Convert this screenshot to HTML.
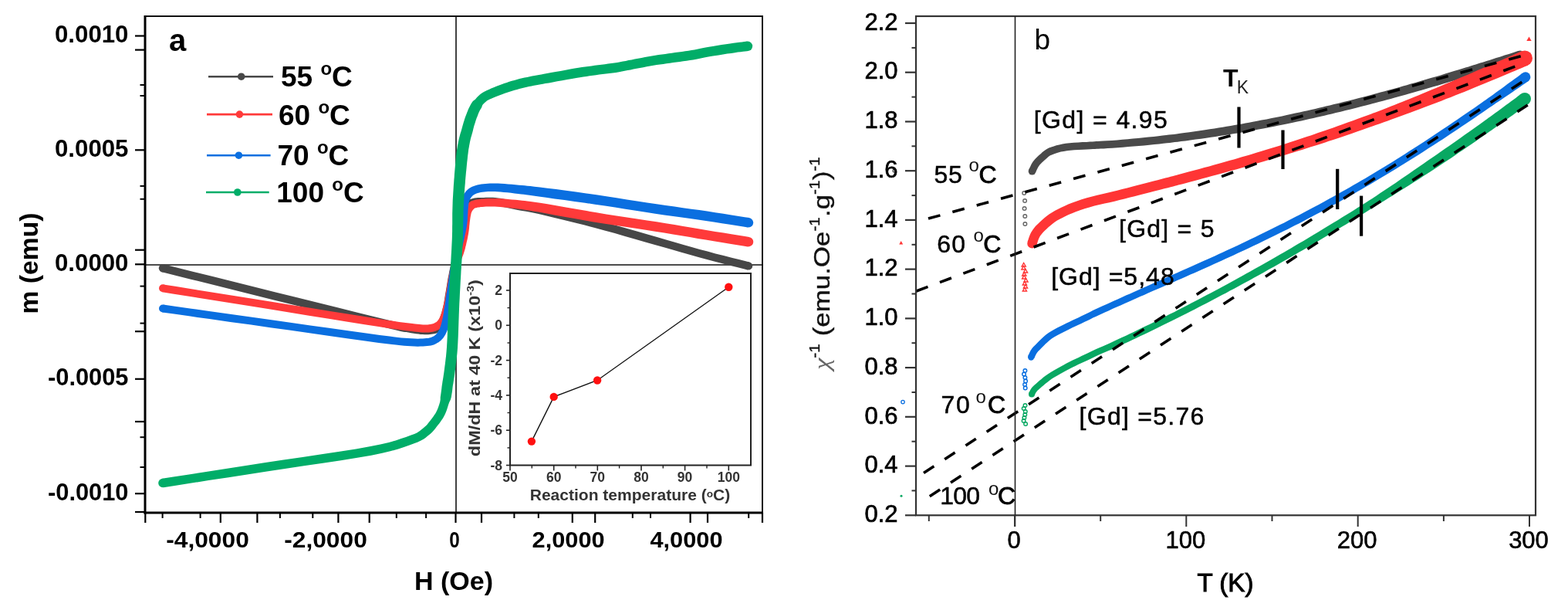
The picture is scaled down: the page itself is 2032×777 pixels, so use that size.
<!DOCTYPE html>
<html><head><meta charset="utf-8"><title>Magnetization figure</title>
<style>
html,body{margin:0;padding:0;background:#fff;}
body{width:2032px;height:777px;overflow:hidden;}
svg{display:block;font-family:"Liberation Sans", Arial, sans-serif;}
</style></head><body>
<svg width="2032" height="777" viewBox="0 0 2032 777">
<rect width="2032" height="777" fill="#fff"/>
<line x1="591.0" y1="21.0" x2="591.0" y2="664.0" stroke="#111" stroke-width="1.6" />
<line x1="188.0" y1="343.0" x2="988.0" y2="343.0" stroke="#111" stroke-width="1.6" />
<path d="M209.8,352.3 L225.5,356.2 L247.3,361.7 L273.1,368.1 L301.0,375.0 L328.9,382.0 L354.8,388.4 L380.4,394.8 L407.7,401.5 L435.0,408.3 L460.6,414.7 L483.1,420.2 L500.6,424.5 L512.2,427.3 L519.2,428.9 L522.9,429.7 L525.0,430.0 L526.5,430.1 L529.1,430.6 L532.8,431.2 L536.2,431.8 L539.3,432.3 L542.2,432.6 L545.0,432.9 L547.7,433.1 L550.3,433.3 L552.7,433.3 L555.0,433.2 L557.1,433.1 L559.0,432.8 L560.8,432.6 L562.5,432.3 L564.1,431.9 L565.6,431.5 L567.2,430.8 L568.6,430.1 L570.0,429.2 L571.4,428.1 L572.6,426.9 L573.7,425.6 L574.7,424.3 L575.6,423.0 L576.4,421.6 L577.3,420.2 L578.1,418.6 L578.8,417.0 L579.5,415.3 L580.2,413.6 L580.9,411.7 L581.5,409.7 L582.2,407.5 L582.8,405.3 L583.4,403.0 L584.0,400.6 L584.5,398.1 L585.1,395.4 L585.6,392.6 L586.1,389.7 L586.6,386.7 L587.1,383.8 L587.6,380.9 L588.1,377.9 L588.6,374.9 L589.1,371.8 L589.5,368.8 L590.0,365.8 L590.6,362.9 L591.1,360.1 L591.7,357.2 L592.2,354.3 L592.8,351.6 L593.4,348.8 L594.0,346.2 L594.6,343.7 L595.3,341.3 L595.9,338.9 L596.6,336.4 L597.3,333.9 L598.0,331.3 L598.7,328.5 L599.4,325.6 L600.1,322.7 L600.8,319.7 L601.5,316.8 L602.0,314.0 L602.6,311.3 L603.0,308.7 L603.5,306.2 L603.8,303.7 L604.2,301.2 L604.6,298.7 L605.0,296.2 L605.3,293.5 L605.6,290.9 L606.0,288.4 L606.3,286.0 L606.6,283.7 L606.9,281.6 L607.2,279.6 L607.4,277.8 L607.7,276.2 L608.0,274.9 L608.4,273.7 L608.8,272.7 L609.3,271.7 L609.8,270.8 L610.4,270.0 L611.0,269.3 L611.6,268.7 L612.1,268.2 L612.5,267.9 L612.8,267.7 L613.2,267.5 L613.9,267.3 L615.0,267.0 L616.5,266.8 L618.2,266.6 L620.1,266.4 L622.3,266.3 L624.6,266.2 L627.1,266.1 L629.7,266.1 L632.4,266.0 L635.1,266.0 L637.9,266.1 L641.0,266.2 L644.3,266.6 L648.1,267.2 L652.3,268.0 L656.8,269.0 L661.6,270.0 L666.3,271.1 L671.0,272.1 L675.1,272.8 L678.5,273.3 L681.8,273.8 L685.7,274.5 L690.8,275.5 L697.9,277.0 L707.3,279.2 L718.5,281.9 L731.1,284.9 L744.3,288.2 L757.7,291.6 L770.7,295.0 L783.5,298.4 L796.7,302.1 L810.0,305.9 L823.3,309.7 L836.2,313.4 L848.6,317.0 L860.4,320.3 L871.8,323.6 L882.9,326.8 L893.6,329.8 L904.1,332.8 L914.3,335.6 L924.6,338.3 L935.3,341.1 L945.7,343.7 L955.1,346.0 L963.0,348.0 L968.8,349.4 L971.2,339.4 L965.5,338.0 L957.6,336.0 L948.1,333.7 L937.8,331.1 L927.2,328.4 L916.9,325.6 L906.8,322.9 L896.4,319.9 L885.7,316.9 L874.6,313.7 L863.2,310.4 L851.4,307.0 L839.1,303.5 L826.2,299.8 L812.9,296.0 L799.5,292.2 L786.2,288.5 L773.3,285.0 L760.3,281.6 L746.8,278.2 L733.5,274.9 L720.9,271.9 L709.6,269.2 L700.1,267.0 L692.9,265.4 L687.5,264.3 L683.4,263.6 L680.1,263.1 L676.8,262.6 L673.0,261.9 L668.5,261.0 L663.8,260.0 L659.0,258.9 L654.4,257.9 L649.9,257.1 L645.7,256.4 L641.9,256.0 L638.4,255.8 L635.2,255.7 L632.2,255.7 L629.5,255.8 L626.9,255.9 L624.3,255.9 L621.8,256.0 L619.4,256.1 L617.1,256.3 L614.9,256.6 L613.0,257.0 L611.2,257.4 L609.6,257.9 L608.1,258.5 L606.7,259.4 L605.5,260.3 L604.4,261.3 L603.3,262.4 L602.2,263.7 L601.2,265.2 L600.3,266.7 L599.4,268.4 L598.6,270.3 L598.0,272.2 L597.6,274.2 L597.3,276.2 L597.0,278.2 L596.7,280.2 L596.4,282.3 L596.1,284.6 L595.7,287.0 L595.4,289.6 L595.1,292.2 L594.8,294.8 L594.4,297.3 L594.0,299.7 L593.7,302.1 L593.3,304.6 L592.9,307.0 L592.4,309.4 L592.0,312.0 L591.4,314.6 L590.8,317.4 L590.1,320.3 L589.4,323.2 L588.7,326.0 L588.0,328.7 L587.4,331.3 L586.7,333.7 L586.0,336.1 L585.3,338.6 L584.6,341.1 L584.0,343.8 L583.4,346.6 L582.7,349.4 L582.1,352.3 L581.6,355.2 L581.0,358.1 L580.4,361.1 L579.9,364.1 L579.4,367.1 L578.9,370.2 L578.4,373.2 L577.9,376.2 L577.4,379.1 L576.9,382.1 L576.4,385.0 L576.0,388.0 L575.5,390.8 L575.0,393.4 L574.5,395.9 L573.9,398.3 L573.4,400.5 L572.8,402.7 L572.3,404.7 L571.7,406.6 L571.1,408.3 L570.5,410.0 L570.0,411.5 L569.4,412.8 L568.8,414.1 L568.2,415.3 L567.6,416.4 L566.9,417.4 L566.3,418.4 L565.7,419.2 L565.1,419.8 L564.6,420.4 L564.0,420.8 L563.4,421.2 L562.8,421.5 L562.2,421.7 L561.5,422.0 L560.5,422.2 L559.2,422.4 L557.7,422.6 L556.1,422.8 L554.4,422.9 L552.6,423.0 L550.5,423.0 L548.3,422.9 L545.9,422.7 L543.4,422.4 L540.7,422.1 L537.8,421.6 L534.5,421.1 L530.9,420.4 L528.0,420.0 L526.4,419.8 L524.8,419.5 L521.4,418.8 L514.6,417.3 L503.0,414.5 L485.5,410.2 L463.1,404.7 L437.4,398.3 L410.1,391.6 L382.9,384.8 L357.2,378.4 L331.4,372.0 L303.5,365.0 L275.6,358.1 L249.8,351.7 L228.0,346.2 L212.2,342.3 Z" fill="#474747"/>
<circle cx="211.0" cy="347.3" r="5.2" fill="#474747"/>
<circle cx="970.0" cy="344.4" r="5.2" fill="#474747"/>
<path d="M210.2,378.2 L225.4,380.7 L246.5,384.0 L271.4,388.0 L298.3,392.3 L325.2,396.6 L350.2,400.6 L374.6,404.5 L400.3,408.7 L426.0,412.8 L450.5,416.7 L472.5,420.2 L490.7,423.0 L504.9,425.2 L515.9,426.8 L524.4,427.9 L531.2,428.8 L537.0,429.4 L542.5,430.0 L547.3,430.4 L550.8,430.6 L553.4,430.6 L555.5,430.4 L557.0,430.2 L558.7,430.0 L560.7,429.7 L562.6,429.2 L564.3,428.7 L565.8,428.1 L567.1,427.5 L568.3,426.9 L569.5,426.3 L570.8,425.5 L571.9,424.6 L572.9,423.7 L573.9,422.8 L574.8,421.7 L575.7,420.6 L576.6,419.4 L577.4,418.2 L578.2,416.9 L578.9,415.5 L579.6,414.1 L580.2,412.6 L580.8,411.0 L581.3,409.5 L581.8,407.8 L582.3,406.1 L582.8,404.3 L583.3,402.4 L583.9,400.3 L584.4,398.2 L584.9,395.9 L585.4,393.5 L585.9,390.9 L586.4,388.1 L586.9,385.1 L587.4,382.0 L587.9,378.8 L588.4,375.8 L588.9,372.9 L589.4,370.1 L589.9,367.4 L590.4,364.8 L590.8,362.2 L591.3,359.6 L591.9,357.1 L592.5,354.4 L593.1,351.7 L593.7,349.0 L594.4,346.4 L595.1,343.9 L595.8,341.5 L596.5,339.4 L597.3,337.3 L598.2,335.2 L599.1,333.1 L599.9,330.9 L600.8,328.6 L601.5,326.3 L602.2,324.1 L602.8,321.9 L603.3,319.6 L603.9,317.4 L604.4,315.1 L604.9,312.8 L605.5,310.5 L606.0,308.1 L606.4,305.7 L606.9,303.3 L607.3,300.8 L607.7,298.1 L608.0,295.5 L608.2,292.8 L608.5,290.3 L608.7,287.9 L609.0,285.7 L609.3,283.6 L609.6,281.6 L609.9,279.8 L610.2,278.2 L610.5,276.8 L610.8,275.6 L611.2,274.7 L611.6,273.8 L612.1,273.0 L612.6,272.3 L613.1,271.6 L613.8,270.9 L614.3,270.3 L614.7,270.0 L614.9,269.8 L615.1,269.7 L615.5,269.5 L616.4,269.2 L617.7,268.9 L619.2,268.6 L620.9,268.4 L622.9,268.1 L625.0,267.9 L627.3,267.8 L629.8,267.6 L632.4,267.5 L635.2,267.5 L638.1,267.5 L641.3,267.5 L644.7,267.7 L648.6,268.0 L652.9,268.4 L657.4,268.8 L662.1,269.4 L666.8,269.9 L671.4,270.5 L675.3,271.0 L678.6,271.4 L681.9,271.9 L685.7,272.5 L690.9,273.4 L698.0,274.6 L707.4,276.3 L718.6,278.5 L731.2,280.7 L744.5,283.1 L758.0,285.5 L771.0,287.7 L783.9,289.7 L797.1,291.8 L810.5,293.8 L823.8,295.8 L836.7,297.8 L849.0,299.7 L860.8,301.6 L872.2,303.5 L883.2,305.3 L894.0,307.1 L904.4,308.9 L914.6,310.6 L924.9,312.3 L935.6,314.0 L945.9,315.7 L955.3,317.2 L963.2,318.4 L969.0,319.4 L971.0,307.0 L965.2,306.1 L957.3,304.8 L947.9,303.3 L937.6,301.6 L926.9,299.9 L916.6,298.2 L906.5,296.6 L896.1,294.8 L885.3,293.0 L874.2,291.1 L862.8,289.2 L851.0,287.3 L838.6,285.4 L825.7,283.4 L812.4,281.4 L799.0,279.4 L785.8,277.4 L773.0,275.3 L760.1,273.1 L746.7,270.8 L733.4,268.4 L720.8,266.2 L709.5,264.3 L700.0,262.8 L692.8,261.7 L687.5,260.9 L683.4,260.4 L680.0,260.0 L676.6,259.7 L672.6,259.3 L668.0,258.8 L663.2,258.4 L658.5,258.0 L653.8,257.6 L649.4,257.3 L645.3,257.1 L641.6,257.0 L638.1,257.0 L635.0,257.0 L632.0,257.1 L629.3,257.3 L626.7,257.4 L624.1,257.6 L621.7,257.9 L619.5,258.2 L617.4,258.5 L615.4,258.9 L613.6,259.4 L612.0,259.9 L610.5,260.6 L609.1,261.4 L607.9,262.3 L607.0,263.2 L606.2,264.1 L605.4,265.1 L604.4,266.2 L603.5,267.5 L602.7,269.0 L601.9,270.6 L601.2,272.4 L600.6,274.3 L600.2,276.2 L599.8,278.1 L599.5,280.1 L599.3,282.2 L599.0,284.3 L598.7,286.7 L598.4,289.2 L598.2,291.8 L597.9,294.4 L597.6,296.9 L597.3,299.2 L596.9,301.5 L596.5,303.8 L596.1,306.1 L595.6,308.4 L595.1,310.6 L594.6,312.9 L594.1,315.0 L593.5,317.2 L593.0,319.3 L592.5,321.3 L591.9,323.4 L591.2,325.4 L590.5,327.4 L589.8,329.3 L588.9,331.4 L588.0,333.6 L587.1,336.0 L586.2,338.5 L585.5,341.1 L584.7,343.8 L584.0,346.6 L583.4,349.4 L582.7,352.2 L582.1,354.9 L581.5,357.6 L581.0,360.3 L580.5,363.0 L580.0,365.6 L579.6,368.4 L579.1,371.1 L578.6,374.1 L578.1,377.2 L577.6,380.4 L577.1,383.5 L576.6,386.4 L576.1,389.1 L575.6,391.5 L575.1,393.8 L574.6,395.9 L574.1,398.0 L573.7,399.9 L573.2,401.7 L572.7,403.4 L572.3,404.9 L571.8,406.4 L571.4,407.6 L570.9,408.8 L570.4,409.9 L569.9,411.0 L569.4,412.0 L568.9,412.9 L568.3,413.8 L567.8,414.6 L567.2,415.3 L566.6,415.9 L566.1,416.4 L565.6,416.9 L565.1,417.3 L564.5,417.6 L563.7,418.1 L562.8,418.5 L561.9,418.9 L561.0,419.3 L560.0,419.6 L558.9,419.8 L557.3,420.0 L555.6,420.3 L554.3,420.5 L553.0,420.6 L551.1,420.6 L548.1,420.4 L543.5,420.0 L538.1,419.5 L532.4,418.8 L525.7,418.0 L517.3,416.9 L506.4,415.3 L492.3,413.2 L474.0,410.3 L452.0,406.8 L427.6,402.9 L401.9,398.8 L376.2,394.7 L351.8,390.8 L326.8,386.8 L299.9,382.5 L273.0,378.2 L248.1,374.2 L227.0,370.8 L211.8,368.4 Z" fill="#FF3A3A"/>
<circle cx="211.0" cy="373.3" r="5.0" fill="#FF3A3A"/>
<circle cx="970.0" cy="313.2" r="6.2" fill="#FF3A3A"/>
<path d="M210.3,404.5 L225.5,406.6 L246.6,409.6 L271.5,413.1 L298.4,416.9 L325.3,420.6 L350.3,424.2 L374.8,427.6 L400.8,431.3 L426.7,435.0 L451.3,438.4 L473.1,441.5 L490.8,443.9 L503.7,445.5 L512.8,446.6 L519.1,447.3 L523.8,447.7 L527.9,448.0 L532.4,448.3 L537.2,448.6 L541.4,448.7 L545.0,448.6 L548.2,448.5 L551.0,448.3 L553.7,448.1 L556.2,447.8 L558.4,447.4 L560.3,446.9 L562.1,446.4 L563.7,445.7 L565.2,445.0 L566.8,444.1 L568.4,443.2 L569.9,442.1 L571.3,440.9 L572.6,439.6 L573.9,438.2 L575.0,436.7 L576.1,435.1 L577.1,433.4 L578.0,431.6 L578.9,429.8 L579.7,427.8 L580.4,425.7 L581.1,423.4 L581.7,421.1 L582.3,418.8 L582.9,416.4 L583.4,414.0 L583.9,411.6 L584.3,409.2 L584.7,406.7 L585.1,404.2 L585.5,401.6 L585.9,398.8 L586.4,395.7 L586.9,392.4 L587.4,389.0 L587.9,385.6 L588.4,382.1 L588.9,378.7 L589.4,375.4 L589.9,372.0 L590.4,368.6 L590.9,365.3 L591.4,362.0 L591.9,358.8 L592.4,355.7 L592.9,352.7 L593.4,349.8 L593.9,346.9 L594.4,344.0 L594.9,340.9 L595.5,337.7 L596.2,334.4 L596.8,331.0 L597.5,327.6 L598.2,324.3 L598.9,321.0 L599.6,317.9 L600.3,314.8 L601.0,311.7 L601.7,308.7 L602.3,305.8 L602.9,303.0 L603.5,300.5 L603.9,298.1 L604.4,295.8 L604.8,293.5 L605.2,291.1 L605.5,288.6 L605.8,285.8 L606.0,283.0 L606.1,280.1 L606.2,277.4 L606.4,274.8 L606.5,272.4 L606.7,270.1 L606.9,268.0 L607.1,266.0 L607.3,264.3 L607.6,262.7 L607.9,261.3 L608.3,260.0 L608.7,258.9 L609.2,257.9 L609.7,257.0 L610.3,256.1 L611.0,255.2 L611.7,254.3 L612.4,253.5 L613.2,252.9 L614.0,252.3 L614.9,251.7 L616.1,251.2 L617.5,250.6 L619.2,250.1 L621.1,249.6 L623.1,249.1 L625.3,248.8 L627.6,248.4 L630.0,248.2 L632.6,248.1 L635.2,248.0 L638.1,248.0 L641.3,248.0 L644.7,248.2 L648.6,248.5 L652.9,248.9 L657.4,249.3 L662.1,249.8 L666.8,250.4 L671.4,250.9 L675.4,251.4 L678.7,251.8 L682.0,252.2 L685.9,252.7 L691.1,253.4 L698.2,254.4 L707.6,255.8 L718.9,257.4 L731.5,259.1 L744.7,261.0 L758.1,262.8 L771.1,264.7 L783.9,266.6 L797.1,268.6 L810.5,270.7 L823.8,272.8 L836.7,274.8 L849.1,276.7 L860.9,278.4 L872.3,280.0 L883.4,281.6 L894.2,283.0 L904.6,284.5 L914.7,286.0 L925.0,287.5 L935.6,289.2 L945.9,290.8 L955.3,292.3 L963.2,293.6 L969.0,294.5 L971.0,282.1 L965.2,281.2 L957.3,280.0 L947.9,278.5 L937.5,276.8 L926.9,275.2 L916.5,273.6 L906.3,272.1 L895.9,270.7 L885.1,269.2 L874.1,267.6 L862.7,266.0 L850.9,264.3 L838.6,262.5 L825.7,260.5 L812.4,258.4 L799.0,256.3 L785.8,254.2 L772.9,252.3 L759.9,250.5 L746.4,248.6 L733.2,246.8 L720.6,245.1 L709.3,243.7 L699.8,242.6 L692.6,241.7 L687.3,241.1 L683.3,240.7 L679.9,240.3 L676.6,240.0 L672.6,239.7 L668.0,239.3 L663.2,238.8 L658.4,238.4 L653.8,238.1 L649.3,237.8 L645.3,237.6 L641.6,237.5 L638.2,237.5 L635.0,237.5 L632.0,237.7 L629.2,237.9 L626.4,238.2 L623.7,238.5 L621.1,239.0 L618.6,239.6 L616.2,240.2 L614.0,241.0 L611.9,241.8 L610.0,242.8 L608.3,243.8 L606.7,245.0 L605.3,246.2 L604.1,247.5 L603.0,248.8 L602.0,250.2 L601.0,251.7 L600.1,253.3 L599.4,255.0 L598.7,256.8 L598.1,258.7 L597.6,260.7 L597.3,262.8 L597.0,265.0 L596.8,267.1 L596.7,269.3 L596.5,271.6 L596.3,274.1 L596.1,276.9 L596.0,279.6 L595.9,282.4 L595.7,285.0 L595.5,287.4 L595.2,289.7 L594.9,291.8 L594.5,293.9 L594.1,296.1 L593.6,298.4 L593.1,301.0 L592.5,303.7 L591.9,306.5 L591.2,309.5 L590.5,312.6 L589.8,315.8 L589.1,319.0 L588.4,322.2 L587.7,325.6 L587.0,329.0 L586.3,332.4 L585.7,335.8 L585.1,339.1 L584.5,342.2 L584.0,345.2 L583.5,348.2 L583.0,351.1 L582.6,354.1 L582.1,357.2 L581.6,360.5 L581.1,363.8 L580.6,367.1 L580.1,370.5 L579.6,373.9 L579.1,377.3 L578.5,380.7 L578.0,384.1 L577.5,387.6 L577.0,391.0 L576.5,394.2 L576.1,397.2 L575.6,400.1 L575.2,402.7 L574.8,405.2 L574.5,407.5 L574.1,409.7 L573.6,412.0 L573.1,414.2 L572.6,416.5 L572.1,418.6 L571.5,420.6 L570.9,422.5 L570.3,424.2 L569.7,425.8 L569.0,427.2 L568.3,428.5 L567.6,429.7 L566.9,430.8 L566.1,431.8 L565.3,432.7 L564.5,433.5 L563.7,434.2 L562.8,434.9 L561.9,435.4 L560.8,436.0 L559.6,436.6 L558.6,437.0 L557.6,437.3 L556.4,437.6 L554.8,437.9 L552.7,438.1 L550.3,438.3 L547.7,438.5 L544.8,438.6 L541.5,438.7 L537.6,438.6 L533.0,438.3 L528.5,438.0 L524.6,437.8 L520.1,437.4 L513.9,436.7 L505.0,435.6 L492.2,433.9 L474.5,431.5 L452.7,428.5 L428.1,425.1 L402.2,421.4 L376.2,417.7 L351.7,414.2 L326.7,410.7 L299.8,407.0 L272.9,403.2 L248.0,399.7 L226.9,396.7 L211.7,394.5 Z" fill="#0A6FE0"/>
<circle cx="211.0" cy="399.5" r="5.0" fill="#0A6FE0"/>
<circle cx="970.0" cy="288.3" r="6.2" fill="#0A6FE0"/>
<path d="M211.9,631.2 L226.4,628.9 L246.6,625.8 L270.4,622.1 L296.2,618.2 L321.9,614.2 L345.9,610.5 L369.2,607.0 L393.8,603.3 L418.3,599.7 L441.8,596.2 L463.1,592.8 L481.1,589.7 L495.3,586.7 L506.8,584.0 L516.0,581.4 L523.5,579.0 L529.9,576.8 L536.0,574.6 L541.4,572.6 L545.5,570.6 L548.8,568.8 L551.4,566.9 L553.4,565.2 L555.6,563.5 L558.1,561.4 L560.4,559.2 L562.4,556.9 L564.3,554.7 L565.9,552.6 L567.5,550.5 L569.2,548.4 L570.8,546.3 L572.3,544.1 L573.9,541.7 L575.3,539.2 L576.7,536.4 L578.0,533.4 L579.2,530.3 L580.2,527.0 L581.2,523.8 L582.4,520.6 L583.9,517.5 L584.8,514.3 L585.3,511.1 L585.8,507.9 L586.2,504.9 L586.5,501.9 L586.9,499.0 L587.4,496.2 L587.8,493.6 L588.2,490.8 L588.7,487.9 L589.2,484.6 L589.6,480.9 L590.2,476.8 L590.7,472.5 L591.3,467.8 L591.9,462.7 L592.5,456.9 L593.0,450.5 L593.4,443.1 L593.8,434.7 L594.1,425.9 L594.4,416.9 L594.7,408.2 L595.0,400.3 L595.3,392.9 L595.7,385.7 L596.0,378.8 L596.4,372.2 L596.7,366.1 L597.0,360.4 L597.3,355.4 L597.5,351.0 L597.8,347.0 L598.0,343.2 L598.3,339.4 L598.5,335.4 L598.7,331.2 L599.0,326.9 L599.2,322.6 L599.4,318.3 L599.6,314.2 L599.8,310.3 L599.9,306.6 L600.0,303.1 L600.1,299.8 L600.1,296.6 L600.2,293.4 L600.2,290.1 L600.3,286.8 L600.4,283.4 L600.4,280.1 L600.5,276.8 L600.5,273.5 L600.6,270.2 L600.8,266.9 L600.9,263.7 L601.1,260.4 L601.3,257.1 L601.5,253.8 L601.7,250.5 L602.0,247.2 L602.2,243.9 L602.5,240.6 L602.8,237.2 L603.0,233.9 L603.3,230.6 L603.6,227.2 L603.9,223.8 L604.3,220.3 L604.6,217.0 L604.9,213.8 L605.2,210.7 L605.5,207.9 L605.8,205.4 L606.0,203.0 L606.3,200.7 L606.6,198.4 L606.9,196.1 L607.2,193.6 L607.7,191.1 L608.1,188.6 L608.6,186.1 L609.0,183.7 L609.5,181.6 L609.9,179.8 L610.3,178.3 L610.7,176.8 L611.2,175.3 L611.6,173.7 L612.1,171.9 L612.6,170.2 L613.0,168.5 L613.4,166.8 L613.8,165.2 L614.2,163.6 L614.7,162.1 L615.2,160.5 L615.7,158.9 L616.2,157.3 L616.7,155.7 L617.3,154.1 L617.8,152.5 L618.5,150.9 L619.1,149.2 L619.8,147.6 L620.4,146.0 L621.1,144.6 L621.7,143.3 L622.4,142.1 L623.0,141.0 L623.7,139.9 L624.3,138.8 L624.7,137.6 L625.1,136.3 L625.9,135.3 L626.8,134.3 L627.6,133.5 L628.4,132.7 L629.3,131.9 L630.2,131.2 L631.0,130.6 L631.7,130.1 L632.2,129.8 L633.0,129.4 L634.2,128.8 L636.0,128.0 L638.3,127.0 L641.2,125.8 L644.4,124.5 L647.7,123.2 L651.1,122.0 L654.3,120.8 L657.4,119.8 L660.5,118.8 L663.7,117.8 L666.8,116.8 L670.0,115.9 L673.1,115.0 L676.2,114.2 L679.3,113.5 L682.5,112.8 L685.6,112.1 L688.8,111.5 L692.0,110.8 L695.0,110.2 L697.8,109.7 L700.5,109.2 L703.5,108.7 L707.0,108.1 L711.2,107.4 L716.3,106.4 L722.2,105.3 L728.6,104.2 L735.1,103.0 L741.2,101.9 L746.7,101.0 L751.5,100.2 L756.0,99.5 L760.1,98.9 L764.1,98.3 L768.2,97.8 L772.3,97.2 L776.6,96.6 L780.9,96.1 L785.3,95.6 L789.7,95.0 L794.0,94.5 L798.2,93.9 L802.2,93.2 L805.9,92.5 L809.6,91.8 L813.3,91.1 L817.0,90.4 L820.9,89.6 L825.0,88.8 L829.3,88.0 L833.7,87.2 L838.1,86.3 L842.4,85.5 L846.7,84.8 L851.0,84.1 L855.2,83.5 L859.5,82.9 L863.8,82.3 L868.1,81.7 L872.4,81.1 L876.7,80.5 L881.0,79.9 L885.4,79.3 L889.8,78.7 L894.1,78.0 L898.2,77.4 L902.2,76.7 L905.8,76.0 L909.3,75.2 L912.8,74.5 L916.6,73.8 L920.8,73.1 L925.6,72.3 L931.1,71.4 L936.9,70.5 L942.5,69.6 L947.8,68.9 L952.4,68.2 L956.3,67.6 L959.8,67.2 L963.0,66.8 L965.7,66.5 L968.0,66.2 L969.7,66.0 L968.3,53.6 L966.5,53.8 L964.3,54.1 L961.5,54.4 L958.3,54.8 L954.6,55.3 L950.6,55.8 L946.0,56.5 L940.7,57.3 L935.0,58.1 L929.2,59.0 L923.6,59.9 L918.6,60.7 L914.3,61.5 L910.4,62.3 L906.8,63.0 L903.4,63.7 L899.9,64.4 L896.2,65.0 L892.2,65.7 L888.0,66.3 L883.7,66.9 L879.3,67.5 L875.0,68.1 L870.6,68.7 L866.4,69.3 L862.1,69.9 L857.8,70.5 L853.4,71.1 L849.1,71.7 L844.7,72.4 L840.2,73.2 L835.8,74.0 L831.3,74.9 L826.9,75.7 L822.6,76.6 L818.5,77.4 L814.6,78.1 L810.9,78.9 L807.2,79.6 L803.7,80.2 L800.0,80.9 L796.2,81.5 L792.2,82.1 L788.1,82.6 L783.8,83.2 L779.4,83.7 L775.0,84.2 L770.7,84.8 L766.5,85.4 L762.4,85.9 L758.3,86.5 L754.1,87.1 L749.6,87.8 L744.7,88.6 L739.1,89.6 L732.9,90.7 L726.4,91.9 L720.0,93.0 L714.1,94.1 L709.0,95.0 L704.9,95.8 L701.4,96.4 L698.3,96.9 L695.5,97.4 L692.7,98.0 L689.6,98.6 L686.3,99.2 L683.1,99.9 L679.8,100.6 L676.5,101.3 L673.2,102.1 L669.9,103.0 L666.6,103.9 L663.3,104.8 L660.0,105.8 L656.7,106.9 L653.4,108.0 L650.1,109.2 L646.7,110.4 L643.3,111.8 L639.8,113.2 L636.5,114.6 L633.5,115.9 L631.0,117.0 L629.1,117.9 L627.5,118.7 L626.2,119.4 L625.0,120.2 L623.9,121.0 L622.8,121.8 L621.6,122.8 L620.3,123.9 L619.2,125.1 L618.0,126.3 L616.9,127.5 L615.9,128.7 L614.5,129.7 L613.1,130.7 L612.1,132.1 L611.1,133.5 L610.2,135.1 L609.3,136.7 L608.4,138.5 L607.5,140.3 L606.7,142.1 L606.0,143.9 L605.2,145.7 L604.6,147.5 L603.9,149.2 L603.2,151.0 L602.6,152.7 L602.0,154.4 L601.5,156.2 L600.9,157.9 L600.4,159.7 L599.9,161.5 L599.4,163.2 L599.0,164.8 L598.5,166.5 L598.1,168.1 L597.7,169.6 L597.2,171.0 L596.7,172.6 L596.2,174.3 L595.7,176.2 L595.1,178.4 L594.6,180.7 L594.1,183.2 L593.6,185.8 L593.0,188.5 L592.6,191.2 L592.1,193.9 L591.7,196.4 L591.4,198.9 L591.1,201.4 L590.9,203.9 L590.6,206.5 L590.4,209.3 L590.1,212.3 L589.8,215.6 L589.5,219.0 L589.2,222.5 L588.9,226.0 L588.7,229.4 L588.4,232.7 L588.2,236.1 L587.9,239.4 L587.7,242.8 L587.5,246.2 L587.3,249.5 L587.1,252.9 L586.9,256.3 L586.7,259.6 L586.6,263.0 L586.5,266.4 L586.4,269.8 L586.3,273.2 L586.2,276.6 L586.2,279.9 L586.2,283.3 L586.2,286.6 L586.2,289.9 L586.1,293.2 L586.1,296.4 L586.1,299.6 L586.0,302.8 L585.9,306.2 L585.8,309.7 L585.6,313.6 L585.4,317.6 L585.2,321.8 L585.0,326.1 L584.7,330.4 L584.5,334.6 L584.3,338.6 L584.0,342.3 L583.8,346.1 L583.6,350.1 L583.3,354.6 L583.0,359.6 L582.7,365.3 L582.4,371.5 L582.0,378.1 L581.7,385.0 L581.3,392.3 L581.0,399.7 L580.7,407.7 L580.4,416.4 L580.1,425.4 L579.8,434.2 L579.4,442.4 L579.0,449.5 L578.5,455.7 L578.0,461.2 L577.4,466.2 L576.9,470.7 L576.3,475.0 L575.8,479.1 L575.3,482.7 L574.8,485.9 L574.4,488.7 L574.0,491.3 L573.5,494.0 L573.1,497.0 L572.6,500.1 L572.3,503.1 L571.9,506.1 L571.5,508.9 L571.1,511.7 L570.7,514.5 L570.7,517.5 L570.2,520.6 L569.3,523.6 L568.3,526.5 L567.3,529.2 L566.3,531.6 L565.2,533.8 L564.1,535.7 L562.8,537.6 L561.5,539.5 L560.0,541.5 L558.5,543.5 L556.9,545.5 L555.3,547.5 L553.8,549.4 L552.2,551.2 L550.4,552.8 L548.4,554.5 L546.2,556.3 L544.4,557.8 L542.6,559.1 L540.3,560.4 L537.0,561.9 L532.0,563.8 L526.1,565.9 L519.8,568.1 L512.7,570.4 L503.9,572.9 L492.9,575.5 L478.9,578.3 L461.2,581.4 L440.1,584.8 L416.7,588.3 L392.1,592.0 L367.5,595.6 L344.1,599.1 L320.2,602.8 L294.4,606.8 L268.7,610.8 L244.8,614.5 L224.7,617.6 L210.1,619.8 Z" fill="#00AD68"/>
<circle cx="211.0" cy="625.5" r="5.8" fill="#00AD68"/>
<circle cx="969.0" cy="59.8" r="6.2" fill="#00AD68"/>
<path d="M188,21 H988 V664" fill="none" stroke="#111" stroke-width="2"/>
<line x1="188.0" y1="20.0" x2="188.0" y2="665.5" stroke="#000" stroke-width="3.0" />
<line x1="186.5" y1="664.0" x2="989.0" y2="664.0" stroke="#000" stroke-width="3.0" />
<line x1="175.0" y1="46.5" x2="188.0" y2="46.5" stroke="#000" stroke-width="2.2" />
<line x1="175.0" y1="64.6" x2="188.0" y2="64.6" stroke="#000" stroke-width="2.2" />
<line x1="175.0" y1="194.3" x2="188.0" y2="194.3" stroke="#000" stroke-width="2.2" />
<line x1="175.0" y1="323.7" x2="188.0" y2="323.7" stroke="#000" stroke-width="2.2" />
<line x1="175.0" y1="342.3" x2="188.0" y2="342.3" stroke="#000" stroke-width="2.2" />
<line x1="175.0" y1="429.2" x2="188.0" y2="429.2" stroke="#000" stroke-width="2.2" />
<line x1="175.0" y1="490.8" x2="188.0" y2="490.8" stroke="#000" stroke-width="2.2" />
<line x1="175.0" y1="546.0" x2="188.0" y2="546.0" stroke="#000" stroke-width="2.2" />
<line x1="175.0" y1="639.2" x2="188.0" y2="639.2" stroke="#000" stroke-width="2.2" />
<line x1="175.0" y1="663.0" x2="188.0" y2="663.0" stroke="#000" stroke-width="2.2" />
<line x1="181.5" y1="110.0" x2="188.0" y2="110.0" stroke="#000" stroke-width="2.0" />
<line x1="181.5" y1="124.0" x2="188.0" y2="124.0" stroke="#000" stroke-width="2.0" />
<line x1="181.5" y1="240.9" x2="188.0" y2="240.9" stroke="#000" stroke-width="2.0" />
<line x1="181.5" y1="257.8" x2="188.0" y2="257.8" stroke="#000" stroke-width="2.0" />
<line x1="181.5" y1="370.6" x2="188.0" y2="370.6" stroke="#000" stroke-width="2.0" />
<line x1="181.5" y1="418.6" x2="188.0" y2="418.6" stroke="#000" stroke-width="2.0" />
<line x1="181.5" y1="566.2" x2="188.0" y2="566.2" stroke="#000" stroke-width="2.0" />
<line x1="181.5" y1="605.0" x2="188.0" y2="605.0" stroke="#000" stroke-width="2.0" />
<line x1="188.3" y1="664.0" x2="188.3" y2="677.0" stroke="#000" stroke-width="2.2" />
<line x1="285.8" y1="664.0" x2="285.8" y2="677.0" stroke="#000" stroke-width="2.2" />
<line x1="333.4" y1="664.0" x2="333.4" y2="677.0" stroke="#000" stroke-width="2.2" />
<line x1="438.4" y1="664.0" x2="438.4" y2="677.0" stroke="#000" stroke-width="2.2" />
<line x1="478.7" y1="664.0" x2="478.7" y2="677.0" stroke="#000" stroke-width="2.2" />
<line x1="590.5" y1="664.0" x2="590.5" y2="677.0" stroke="#000" stroke-width="2.2" />
<line x1="624.0" y1="664.0" x2="624.0" y2="677.0" stroke="#000" stroke-width="2.2" />
<line x1="741.8" y1="664.0" x2="741.8" y2="677.0" stroke="#000" stroke-width="2.2" />
<line x1="771.2" y1="664.0" x2="771.2" y2="677.0" stroke="#000" stroke-width="2.2" />
<line x1="894.6" y1="664.0" x2="894.6" y2="677.0" stroke="#000" stroke-width="2.2" />
<line x1="917.0" y1="664.0" x2="917.0" y2="677.0" stroke="#000" stroke-width="2.2" />
<line x1="988.0" y1="664.0" x2="988.0" y2="677.0" stroke="#000" stroke-width="2.2" />
<line x1="210.6" y1="664.0" x2="210.6" y2="671.0" stroke="#000" stroke-width="2.0" />
<line x1="259.6" y1="664.0" x2="259.6" y2="671.0" stroke="#000" stroke-width="2.0" />
<line x1="362.9" y1="664.0" x2="362.9" y2="671.0" stroke="#000" stroke-width="2.0" />
<line x1="405.3" y1="664.0" x2="405.3" y2="671.0" stroke="#000" stroke-width="2.0" />
<line x1="513.8" y1="664.0" x2="513.8" y2="671.0" stroke="#000" stroke-width="2.0" />
<line x1="552.1" y1="664.0" x2="552.1" y2="671.0" stroke="#000" stroke-width="2.0" />
<line x1="666.4" y1="664.0" x2="666.4" y2="671.0" stroke="#000" stroke-width="2.0" />
<line x1="697.8" y1="664.0" x2="697.8" y2="671.0" stroke="#000" stroke-width="2.0" />
<line x1="819.8" y1="664.0" x2="819.8" y2="671.0" stroke="#000" stroke-width="2.0" />
<line x1="843.0" y1="664.0" x2="843.0" y2="671.0" stroke="#000" stroke-width="2.0" />
<line x1="970.2" y1="664.0" x2="970.2" y2="671.0" stroke="#000" stroke-width="2.0" />
<text x="166.5" y="54.8" font-size="31.5" font-weight="bold" text-anchor="end" fill="#000" textLength="95.5" lengthAdjust="spacingAndGlyphs" >0.0010</text>
<text x="166.5" y="202.6" font-size="31.5" font-weight="bold" text-anchor="end" fill="#000" textLength="95.5" lengthAdjust="spacingAndGlyphs" >0.0005</text>
<text x="166.5" y="350.6" font-size="31.5" font-weight="bold" text-anchor="end" fill="#000" textLength="95.5" lengthAdjust="spacingAndGlyphs" >0.0000</text>
<text x="166.5" y="499.1" font-size="31.5" font-weight="bold" text-anchor="end" fill="#000" textLength="104.5" lengthAdjust="spacingAndGlyphs" >-0.0005</text>
<text x="166.5" y="647.5" font-size="31.5" font-weight="bold" text-anchor="end" fill="#000" textLength="104.5" lengthAdjust="spacingAndGlyphs" >-0.0010</text>
<text x="269.0" y="708.5" font-size="29.0" font-weight="bold" text-anchor="middle" fill="#000" textLength="107.6" lengthAdjust="spacingAndGlyphs" >-4,0000</text>
<text x="422.0" y="708.5" font-size="29.0" font-weight="bold" text-anchor="middle" fill="#000" textLength="107.6" lengthAdjust="spacingAndGlyphs" >-2,0000</text>
<text x="589.0" y="708.5" font-size="29.0" font-weight="bold" text-anchor="middle" fill="#000" textLength="13.5" lengthAdjust="spacingAndGlyphs" >0</text>
<text x="736.6" y="708.5" font-size="29.0" font-weight="bold" text-anchor="middle" fill="#000" textLength="94.1" lengthAdjust="spacingAndGlyphs" >2,0000</text>
<text x="889.5" y="708.5" font-size="29.0" font-weight="bold" text-anchor="middle" fill="#000" textLength="94.1" lengthAdjust="spacingAndGlyphs" >4,0000</text>
<text x="588.0" y="763.7" font-size="33.5" font-weight="bold" text-anchor="middle" fill="#000" textLength="102.0" lengthAdjust="spacingAndGlyphs" >H (Oe)</text>
<text transform="translate(48.5,341) rotate(-90)" x="0" y="0" font-size="33" textLength="131" lengthAdjust="spacingAndGlyphs" font-weight="bold" text-anchor="middle">m (emu)</text>
<text x="219.0" y="65.5" font-size="40.0" font-weight="bold" text-anchor="start" fill="#000" >a</text>
<line x1="270.0" y1="99.2" x2="354.0" y2="99.2" stroke="#474747" stroke-width="2.6" />
<circle cx="312.7" cy="99.2" r="4.8" fill="#474747"/>
<text x="364.0" y="112.0" font-size="37" font-weight="bold">55 <tspan font-size="24" dy="-15">o</tspan><tspan dy="15">C</tspan></text>
<line x1="268.0" y1="148.1" x2="353.0" y2="148.1" stroke="#FF3A3A" stroke-width="2.6" />
<circle cx="310.4" cy="148.1" r="4.8" fill="#FF3A3A"/>
<text x="361.0" y="162.0" font-size="37" font-weight="bold">60 <tspan font-size="24" dy="-15">o</tspan><tspan dy="15">C</tspan></text>
<line x1="268.0" y1="201.2" x2="350.6" y2="201.2" stroke="#0A6FE0" stroke-width="2.6" />
<circle cx="309.4" cy="201.2" r="4.8" fill="#0A6FE0"/>
<text x="359.5" y="213.5" font-size="37" font-weight="bold">70 <tspan font-size="24" dy="-15">o</tspan><tspan dy="15">C</tspan></text>
<line x1="267.0" y1="249.0" x2="348.7" y2="249.0" stroke="#00AD68" stroke-width="2.6" />
<circle cx="307.8" cy="249.0" r="4.8" fill="#00AD68"/>
<text x="358.3" y="261.8" font-size="37" font-weight="bold">100 <tspan font-size="24" dy="-15">o</tspan><tspan dy="15">C</tspan></text>
<rect x="661" y="354" width="312" height="248.5" fill="#fff" stroke="#222" stroke-width="2"/>
<line x1="656.0" y1="602.5" x2="661.0" y2="602.5" stroke="#222" stroke-width="1.6" />
<text x="651.0" y="608.5" font-size="17.5" font-weight="bold" text-anchor="end" fill="#333" >-8</text>
<line x1="656.0" y1="557.2" x2="661.0" y2="557.2" stroke="#222" stroke-width="1.6" />
<text x="651.0" y="563.2" font-size="17.5" font-weight="bold" text-anchor="end" fill="#333" >-6</text>
<line x1="656.0" y1="511.9" x2="661.0" y2="511.9" stroke="#222" stroke-width="1.6" />
<text x="651.0" y="517.9" font-size="17.5" font-weight="bold" text-anchor="end" fill="#333" >-4</text>
<line x1="656.0" y1="466.6" x2="661.0" y2="466.6" stroke="#222" stroke-width="1.6" />
<text x="651.0" y="472.6" font-size="17.5" font-weight="bold" text-anchor="end" fill="#333" >-2</text>
<line x1="656.0" y1="421.3" x2="661.0" y2="421.3" stroke="#222" stroke-width="1.6" />
<text x="651.0" y="427.3" font-size="17.5" font-weight="bold" text-anchor="end" fill="#333" >0</text>
<line x1="656.0" y1="376.0" x2="661.0" y2="376.0" stroke="#222" stroke-width="1.6" />
<text x="651.0" y="382.0" font-size="17.5" font-weight="bold" text-anchor="end" fill="#333" >2</text>
<line x1="657.5" y1="579.9" x2="661.0" y2="579.9" stroke="#222" stroke-width="1.4" />
<line x1="657.5" y1="534.5" x2="661.0" y2="534.5" stroke="#222" stroke-width="1.4" />
<line x1="657.5" y1="489.2" x2="661.0" y2="489.2" stroke="#222" stroke-width="1.4" />
<line x1="657.5" y1="444.0" x2="661.0" y2="444.0" stroke="#222" stroke-width="1.4" />
<line x1="657.5" y1="398.6" x2="661.0" y2="398.6" stroke="#222" stroke-width="1.4" />
<line x1="661.0" y1="602.5" x2="661.0" y2="609.5" stroke="#222" stroke-width="1.6" />
<text x="661.0" y="624.0" font-size="17.5" font-weight="bold" text-anchor="middle" fill="#333" >50</text>
<line x1="717.7" y1="602.5" x2="717.7" y2="609.5" stroke="#222" stroke-width="1.6" />
<text x="717.7" y="624.0" font-size="17.5" font-weight="bold" text-anchor="middle" fill="#333" >60</text>
<line x1="774.3" y1="602.5" x2="774.3" y2="609.5" stroke="#222" stroke-width="1.6" />
<text x="774.3" y="624.0" font-size="17.5" font-weight="bold" text-anchor="middle" fill="#333" >70</text>
<line x1="831.0" y1="602.5" x2="831.0" y2="609.5" stroke="#222" stroke-width="1.6" />
<text x="831.0" y="624.0" font-size="17.5" font-weight="bold" text-anchor="middle" fill="#333" >80</text>
<line x1="887.6" y1="602.5" x2="887.6" y2="609.5" stroke="#222" stroke-width="1.6" />
<text x="887.6" y="624.0" font-size="17.5" font-weight="bold" text-anchor="middle" fill="#333" >90</text>
<line x1="944.3" y1="602.5" x2="944.3" y2="609.5" stroke="#222" stroke-width="1.6" />
<text x="944.3" y="624.0" font-size="17.5" font-weight="bold" text-anchor="middle" fill="#333" >100</text>
<line x1="689.3" y1="602.5" x2="689.3" y2="606.5" stroke="#222" stroke-width="1.4" />
<line x1="746.0" y1="602.5" x2="746.0" y2="606.5" stroke="#222" stroke-width="1.4" />
<line x1="802.6" y1="602.5" x2="802.6" y2="606.5" stroke="#222" stroke-width="1.4" />
<line x1="859.3" y1="602.5" x2="859.3" y2="606.5" stroke="#222" stroke-width="1.4" />
<line x1="916.0" y1="602.5" x2="916.0" y2="606.5" stroke="#222" stroke-width="1.4" />
<polyline points="688.9,571.6 717.7,513.9 774.1,492.5 944.3,371.8" fill="none" stroke="#111" stroke-width="1.4"/>
<circle cx="688.9" cy="571.6" r="5.2" fill="#FF1010"/>
<circle cx="717.7" cy="513.9" r="5.2" fill="#FF1010"/>
<circle cx="774.1" cy="492.5" r="5.2" fill="#FF1010"/>
<circle cx="944.3" cy="371.8" r="5.2" fill="#FF1010"/>
<text x="816.5" y="648.0" font-size="20.0" font-weight="bold" text-anchor="middle" fill="#333" textLength="259.5" lengthAdjust="spacingAndGlyphs" >Reaction temperature (<tspan font-size="13" dy="-4">o</tspan><tspan dy="4">C)</tspan></text>
<text transform="translate(622.3,476.7) rotate(-90)" font-size="19.5" font-weight="bold" text-anchor="middle" fill="#333" textLength="229" lengthAdjust="spacingAndGlyphs">dM/dH at 40 K  (x10<tspan font-size="12" dy="-8">-3</tspan><tspan dy="8">)</tspan></text>
<path d="M1341.8,223.9 L1342.3,222.7 L1343.0,221.2 L1343.8,219.5 L1344.7,217.7 L1345.6,216.1 L1346.5,214.8 L1347.4,213.5 L1348.6,212.2 L1349.8,211.0 L1351.1,209.7 L1352.5,208.4 L1354.1,207.1 L1355.6,205.7 L1357.0,204.4 L1358.3,203.3 L1359.6,202.2 L1361.1,201.3 L1363.1,200.4 L1365.6,199.4 L1368.4,198.4 L1371.5,197.5 L1374.9,196.6 L1378.5,195.9 L1382.5,195.2 L1387.0,194.7 L1392.2,194.3 L1397.7,194.0 L1403.3,193.8 L1408.5,193.5 L1413.0,193.3 L1416.4,193.1 L1419.0,193.0 L1421.2,192.8 L1423.4,192.7 L1426.3,192.6 L1430.3,192.4 L1435.5,192.1 L1441.6,191.7 L1448.3,191.2 L1455.3,190.7 L1462.3,190.1 L1469.0,189.6 L1475.7,189.0 L1482.5,188.4 L1489.4,187.7 L1496.0,187.0 L1502.2,186.4 L1507.8,185.8 L1512.3,185.3 L1516.0,184.9 L1519.2,184.5 L1522.4,184.1 L1526.1,183.7 L1530.7,183.1 L1536.3,182.4 L1542.6,181.6 L1549.4,180.6 L1556.4,179.7 L1563.1,178.7 L1569.4,177.8 L1575.2,176.9 L1580.7,176.1 L1586.1,175.2 L1591.4,174.4 L1596.6,173.6 L1601.7,172.7 L1606.7,171.9 L1611.3,171.1 L1616.0,170.3 L1620.7,169.4 L1625.6,168.5 L1631.0,167.5 L1637.0,166.4 L1643.5,165.2 L1650.2,163.9 L1657.0,162.5 L1663.5,161.2 L1669.7,159.9 L1675.5,158.7 L1681.1,157.5 L1686.5,156.4 L1691.7,155.2 L1696.9,154.1 L1702.0,152.9 L1707.0,151.8 L1711.7,150.7 L1716.3,149.7 L1721.0,148.6 L1725.9,147.4 L1731.3,146.1 L1737.3,144.7 L1743.8,143.1 L1750.5,141.4 L1757.3,139.7 L1763.8,138.0 L1770.0,136.4 L1775.8,134.9 L1781.4,133.5 L1786.8,132.1 L1792.0,130.7 L1797.2,129.3 L1802.3,127.9 L1807.3,126.5 L1811.9,125.2 L1816.5,124.0 L1821.2,122.7 L1826.2,121.3 L1831.6,119.8 L1837.6,118.1 L1844.0,116.2 L1850.7,114.3 L1857.5,112.3 L1864.1,110.4 L1870.3,108.5 L1876.2,106.8 L1882.0,105.1 L1887.6,103.4 L1893.0,101.7 L1898.0,100.2 L1902.5,98.8 L1906.5,97.6 L1910.0,96.6 L1913.0,95.6 L1915.9,94.7 L1918.8,93.8 L1921.8,92.9 L1924.8,92.0 L1927.8,91.0 L1930.8,90.1 L1933.8,89.2 L1936.7,88.3 L1939.6,87.4 L1942.4,86.5 L1945.2,85.6 L1948.0,84.7 L1950.8,83.9 L1953.5,83.0 L1956.2,82.1 L1959.0,81.2 L1962.1,80.3 L1965.1,79.3 L1967.8,78.5 L1970.1,77.7 L1971.8,77.2 L1968.2,65.8 L1966.5,66.3 L1964.2,67.1 L1961.4,68.0 L1958.4,68.9 L1955.4,69.9 L1952.6,70.8 L1949.9,71.6 L1947.2,72.5 L1944.4,73.4 L1941.7,74.3 L1938.9,75.1 L1936.0,76.0 L1933.1,77.0 L1930.2,77.9 L1927.3,78.8 L1924.3,79.7 L1921.3,80.7 L1918.2,81.6 L1915.3,82.6 L1912.4,83.4 L1909.6,84.3 L1906.5,85.3 L1903.0,86.4 L1899.1,87.6 L1894.5,89.0 L1889.6,90.5 L1884.2,92.1 L1878.6,93.8 L1872.8,95.6 L1866.9,97.4 L1860.8,99.2 L1854.2,101.1 L1847.5,103.1 L1840.8,105.1 L1834.4,106.9 L1828.4,108.6 L1823.1,110.2 L1818.1,111.6 L1813.5,112.9 L1808.9,114.2 L1804.2,115.5 L1799.3,116.8 L1794.2,118.2 L1789.0,119.6 L1783.8,121.0 L1778.5,122.5 L1772.9,123.9 L1767.2,125.4 L1761.0,127.0 L1754.5,128.7 L1747.7,130.4 L1741.0,132.1 L1734.6,133.7 L1728.7,135.1 L1723.3,136.4 L1718.4,137.6 L1713.7,138.7 L1709.1,139.8 L1704.5,140.9 L1699.6,142.0 L1694.5,143.2 L1689.3,144.3 L1684.1,145.5 L1678.7,146.6 L1673.2,147.8 L1667.5,149.1 L1661.3,150.4 L1654.8,151.7 L1648.0,153.1 L1641.4,154.4 L1634.9,155.6 L1629.0,156.8 L1623.6,157.8 L1618.7,158.7 L1614.0,159.6 L1609.5,160.4 L1604.8,161.2 L1599.9,162.1 L1594.8,163.0 L1589.7,163.8 L1584.4,164.7 L1579.1,165.6 L1573.6,166.4 L1567.8,167.3 L1561.6,168.3 L1554.9,169.3 L1548.0,170.3 L1541.2,171.2 L1534.9,172.1 L1529.3,172.8 L1524.8,173.4 L1521.2,173.9 L1518.0,174.2 L1514.8,174.6 L1511.1,175.1 L1506.6,175.6 L1501.1,176.2 L1495.0,176.9 L1488.4,177.6 L1481.6,178.3 L1474.7,179.0 L1468.2,179.6 L1461.5,180.2 L1454.5,180.8 L1447.6,181.4 L1441.0,181.9 L1434.9,182.3 L1429.7,182.6 L1425.8,182.8 L1422.9,183.0 L1420.6,183.1 L1418.4,183.3 L1415.8,183.4 L1412.4,183.6 L1408.0,183.9 L1402.8,184.1 L1397.2,184.4 L1391.5,184.7 L1386.1,185.2 L1381.1,185.8 L1376.8,186.5 L1372.7,187.4 L1369.0,188.3 L1365.5,189.4 L1362.3,190.5 L1359.3,191.6 L1356.6,192.9 L1354.3,194.4 L1352.3,195.9 L1350.6,197.3 L1349.2,198.7 L1347.7,199.9 L1346.2,201.3 L1344.6,202.8 L1343.1,204.3 L1341.6,205.8 L1340.1,207.5 L1338.7,209.2 L1337.4,211.2 L1336.3,213.3 L1335.3,215.4 L1334.4,217.2 L1333.7,218.7 L1333.2,219.7 Z" fill="#4a4a4a"/>
<circle cx="1337.5" cy="221.8" r="4.8" fill="#4a4a4a"/>
<circle cx="1970.0" cy="71.5" r="6.0" fill="#4a4a4a"/>
<path d="M1343.4,317.3 L1343.9,316.0 L1344.4,314.2 L1345.0,312.3 L1345.7,310.3 L1346.4,308.5 L1347.2,307.0 L1348.0,305.6 L1349.0,304.2 L1350.0,302.9 L1351.2,301.5 L1352.6,300.0 L1354.4,298.2 L1356.6,296.2 L1358.9,294.1 L1361.4,291.9 L1364.1,289.7 L1367.0,287.6 L1370.0,285.6 L1373.3,283.8 L1376.9,281.9 L1380.7,280.1 L1384.8,278.1 L1389.3,276.2 L1394.1,274.2 L1399.6,272.3 L1405.5,270.3 L1411.8,268.4 L1418.4,266.6 L1424.9,265.0 L1431.4,263.6 L1437.8,262.2 L1444.3,260.7 L1450.8,259.0 L1457.3,257.4 L1463.7,255.8 L1470.2,254.2 L1476.8,252.5 L1483.6,250.8 L1490.5,249.0 L1497.1,247.3 L1503.3,245.8 L1508.8,244.3 L1513.4,243.2 L1517.0,242.2 L1520.2,241.4 L1523.5,240.6 L1527.1,239.6 L1531.7,238.4 L1537.3,237.0 L1543.6,235.3 L1550.4,233.5 L1557.3,231.6 L1564.1,229.8 L1570.3,228.1 L1576.1,226.5 L1581.7,225.0 L1587.1,223.5 L1592.3,222.1 L1597.5,220.6 L1602.6,219.2 L1607.6,217.8 L1612.3,216.4 L1616.9,215.1 L1621.6,213.7 L1626.5,212.3 L1631.9,210.7 L1637.9,208.9 L1644.4,207.0 L1651.1,205.0 L1657.9,203.0 L1664.5,201.0 L1670.7,199.1 L1676.5,197.3 L1682.0,195.6 L1687.4,193.9 L1692.7,192.3 L1697.9,190.6 L1703.0,189.0 L1708.0,187.4 L1712.7,185.9 L1717.3,184.4 L1722.0,182.8 L1727.0,181.2 L1732.4,179.4 L1738.4,177.4 L1744.9,175.2 L1751.6,172.9 L1758.4,170.6 L1765.0,168.3 L1771.2,166.1 L1777.0,164.1 L1782.6,162.1 L1788.0,160.2 L1793.3,158.3 L1798.5,156.4 L1803.6,154.5 L1808.6,152.7 L1813.4,151.0 L1818.2,149.2 L1822.9,147.5 L1827.9,145.7 L1833.1,143.8 L1838.6,141.7 L1844.4,139.5 L1850.3,137.3 L1856.4,135.0 L1862.4,132.7 L1868.4,130.4 L1874.2,128.1 L1880.0,125.9 L1885.8,123.6 L1891.6,121.2 L1897.6,118.9 L1903.6,116.4 L1910.0,113.8 L1916.7,111.0 L1923.5,108.2 L1930.1,105.5 L1936.3,102.9 L1941.8,100.7 L1946.5,98.7 L1950.6,97.0 L1954.2,95.5 L1957.6,94.1 L1960.7,92.7 L1963.9,91.4 L1967.1,90.0 L1970.3,88.7 L1973.3,87.4 L1976.0,86.3 L1978.3,85.3 L1980.0,84.6 L1972.0,66.3 L1970.4,67.0 L1968.1,68.0 L1965.4,69.2 L1962.5,70.5 L1959.3,71.9 L1956.1,73.3 L1953.0,74.7 L1949.8,76.0 L1946.5,77.5 L1942.9,79.1 L1938.8,80.8 L1934.2,82.8 L1928.8,85.2 L1922.7,87.8 L1916.1,90.6 L1909.4,93.5 L1902.7,96.4 L1896.4,99.0 L1890.4,101.6 L1884.6,104.0 L1878.8,106.4 L1873.1,108.8 L1867.4,111.2 L1861.6,113.7 L1855.8,116.1 L1849.9,118.6 L1843.9,121.0 L1838.1,123.4 L1832.4,125.7 L1826.9,128.0 L1821.8,130.0 L1817.0,132.0 L1812.3,133.8 L1807.6,135.7 L1802.9,137.6 L1798.0,139.5 L1792.9,141.5 L1787.8,143.4 L1782.6,145.4 L1777.2,147.4 L1771.7,149.4 L1766.0,151.6 L1759.8,153.8 L1753.3,156.2 L1746.6,158.6 L1739.9,161.0 L1733.5,163.3 L1727.6,165.4 L1722.3,167.2 L1717.3,169.0 L1712.7,170.6 L1708.1,172.1 L1703.5,173.7 L1698.6,175.4 L1693.5,177.1 L1688.3,178.8 L1683.1,180.5 L1677.8,182.3 L1672.3,184.1 L1666.5,185.9 L1660.4,187.9 L1653.9,190.0 L1647.1,192.1 L1640.5,194.1 L1634.0,196.1 L1628.1,197.8 L1622.7,199.4 L1617.8,200.9 L1613.1,202.3 L1608.6,203.6 L1603.9,204.9 L1599.0,206.4 L1593.9,207.8 L1588.7,209.3 L1583.5,210.8 L1578.1,212.3 L1572.6,213.8 L1566.9,215.4 L1560.6,217.1 L1553.9,218.9 L1547.0,220.8 L1540.2,222.6 L1533.9,224.3 L1528.3,225.8 L1523.8,227.0 L1520.2,228.0 L1517.0,228.8 L1513.7,229.7 L1510.1,230.6 L1505.6,231.8 L1500.1,233.2 L1493.9,234.8 L1487.3,236.5 L1480.5,238.3 L1473.6,240.0 L1467.0,241.7 L1460.6,243.4 L1454.1,245.0 L1447.7,246.7 L1441.3,248.3 L1435.0,249.8 L1428.6,251.2 L1422.0,252.7 L1415.2,254.4 L1408.4,256.3 L1401.7,258.3 L1395.4,260.4 L1389.7,262.5 L1384.4,264.6 L1379.7,266.8 L1375.3,268.8 L1371.3,270.7 L1367.3,272.8 L1363.6,275.0 L1359.9,277.3 L1356.5,279.8 L1353.4,282.3 L1350.6,284.7 L1348.1,287.0 L1345.8,289.2 L1343.7,291.2 L1341.9,293.1 L1340.3,295.0 L1338.8,297.0 L1337.5,298.9 L1336.2,301.0 L1335.0,303.4 L1334.0,306.0 L1333.1,308.4 L1332.5,310.6 L1331.9,312.3 L1331.6,313.5 Z" fill="#FF3535"/>
<circle cx="1337.5" cy="315.4" r="6.2" fill="#FF3535"/>
<circle cx="1976.0" cy="75.4" r="10.0" fill="#FF3535"/>
<path d="M1340.0,464.3 L1340.5,463.5 L1341.0,462.3 L1341.6,461.0 L1342.3,459.6 L1342.9,458.4 L1343.6,457.3 L1344.1,456.5 L1344.6,455.9 L1345.1,455.3 L1345.8,454.5 L1346.9,453.5 L1348.4,452.0 L1350.3,450.1 L1352.6,447.8 L1355.0,445.3 L1357.6,442.9 L1360.4,440.5 L1363.3,438.3 L1366.5,436.2 L1370.1,434.2 L1373.9,432.2 L1377.9,430.2 L1381.9,428.2 L1385.9,426.2 L1389.7,424.3 L1393.6,422.5 L1397.4,420.7 L1401.3,418.9 L1405.2,417.1 L1409.1,415.2 L1412.8,413.4 L1416.4,411.6 L1420.0,409.9 L1423.7,408.2 L1427.5,406.4 L1431.8,404.4 L1436.5,402.4 L1441.5,400.1 L1446.7,397.8 L1452.1,395.4 L1457.5,393.0 L1462.7,390.7 L1467.7,388.4 L1472.7,386.3 L1477.6,384.1 L1482.7,381.9 L1487.9,379.6 L1493.5,377.1 L1499.5,374.5 L1506.0,371.7 L1512.6,368.8 L1519.3,365.9 L1525.8,363.0 L1531.8,360.4 L1537.4,357.9 L1542.7,355.6 L1547.8,353.4 L1552.7,351.2 L1557.7,348.9 L1562.8,346.7 L1567.9,344.4 L1573.1,342.1 L1578.2,339.8 L1583.3,337.4 L1588.5,335.1 L1593.6,332.7 L1598.7,330.4 L1603.7,328.1 L1608.7,325.8 L1613.7,323.4 L1619.0,320.9 L1624.6,318.3 L1630.7,315.4 L1637.1,312.3 L1643.8,309.1 L1650.5,305.8 L1657.0,302.6 L1663.0,299.6 L1668.5,296.9 L1673.6,294.3 L1678.4,291.8 L1683.3,289.4 L1688.4,286.7 L1693.9,283.8 L1700.1,280.6 L1706.7,277.1 L1713.6,273.4 L1720.5,269.7 L1727.1,266.1 L1733.3,262.7 L1738.9,259.6 L1744.3,256.6 L1749.4,253.7 L1754.3,250.9 L1759.3,248.1 L1764.3,245.2 L1769.3,242.3 L1774.3,239.4 L1779.3,236.5 L1784.2,233.5 L1789.2,230.6 L1794.3,227.5 L1799.3,224.5 L1804.3,221.5 L1809.3,218.5 L1814.4,215.3 L1819.7,212.0 L1825.3,208.5 L1831.4,204.8 L1837.9,200.7 L1844.5,196.4 L1851.2,192.1 L1857.7,188.0 L1863.8,184.0 L1869.4,180.4 L1874.6,176.9 L1879.7,173.6 L1884.7,170.3 L1889.6,167.0 L1894.7,163.6 L1900.0,160.0 L1905.6,156.2 L1911.2,152.5 L1916.5,148.8 L1921.4,145.4 L1925.7,142.5 L1929.2,140.1 L1931.9,138.2 L1934.2,136.7 L1936.4,135.2 L1938.7,133.6 L1941.5,131.7 L1944.9,129.5 L1948.5,127.0 L1952.2,124.5 L1956.0,121.9 L1959.7,119.4 L1963.1,117.1 L1966.5,114.8 L1969.9,112.4 L1973.3,110.1 L1976.3,108.0 L1978.9,106.3 L1980.7,105.0 L1973.3,94.5 L1971.4,95.8 L1969.0,97.7 L1966.0,99.9 L1962.7,102.2 L1959.4,104.7 L1956.1,107.1 L1952.7,109.6 L1949.2,112.2 L1945.5,114.9 L1941.8,117.5 L1938.3,120.1 L1935.1,122.4 L1932.3,124.4 L1930.0,126.1 L1927.9,127.6 L1925.6,129.2 L1922.9,131.1 L1919.5,133.5 L1915.2,136.5 L1910.3,139.9 L1905.0,143.5 L1899.5,147.3 L1894.0,151.1 L1888.7,154.7 L1883.7,158.1 L1878.7,161.4 L1873.8,164.8 L1868.8,168.1 L1863.6,171.6 L1858.0,175.3 L1852.0,179.2 L1845.6,183.4 L1839.0,187.7 L1832.3,192.0 L1825.9,196.1 L1819.9,199.9 L1814.3,203.4 L1809.1,206.7 L1804.0,209.9 L1799.0,213.0 L1794.1,216.0 L1789.1,219.0 L1784.1,222.0 L1779.2,225.0 L1774.2,227.9 L1769.3,230.9 L1764.3,233.8 L1759.3,236.7 L1754.3,239.6 L1749.4,242.4 L1744.5,245.2 L1739.4,248.1 L1734.2,251.1 L1728.5,254.2 L1722.4,257.6 L1715.8,261.2 L1709.0,264.9 L1702.2,268.6 L1695.6,272.1 L1689.5,275.3 L1684.0,278.2 L1678.9,280.8 L1674.1,283.3 L1669.2,285.8 L1664.2,288.4 L1658.8,291.1 L1652.8,294.1 L1646.3,297.3 L1639.7,300.6 L1633.0,303.8 L1626.6,306.9 L1620.6,309.8 L1615.0,312.5 L1609.8,315.0 L1604.7,317.4 L1599.8,319.7 L1594.8,322.0 L1589.8,324.3 L1584.6,326.7 L1579.5,329.0 L1574.4,331.4 L1569.3,333.7 L1564.2,336.0 L1559.0,338.3 L1554.0,340.6 L1549.0,342.8 L1544.1,345.0 L1539.0,347.3 L1533.8,349.6 L1528.2,352.1 L1522.1,354.8 L1515.7,357.6 L1509.0,360.6 L1502.4,363.5 L1495.9,366.3 L1489.9,369.0 L1484.3,371.4 L1479.1,373.8 L1474.1,376.0 L1469.1,378.2 L1464.2,380.4 L1459.1,382.6 L1453.9,385.0 L1448.5,387.4 L1443.2,389.8 L1437.9,392.2 L1432.9,394.4 L1428.2,396.5 L1423.9,398.5 L1420.0,400.3 L1416.2,402.1 L1412.6,403.9 L1409.0,405.7 L1405.3,407.5 L1401.5,409.3 L1397.7,411.2 L1393.8,413.0 L1389.9,414.8 L1386.0,416.7 L1382.1,418.6 L1378.2,420.6 L1374.1,422.6 L1370.0,424.6 L1366.0,426.8 L1362.1,429.0 L1358.5,431.3 L1355.1,433.8 L1352.0,436.5 L1349.1,439.3 L1346.5,441.8 L1344.3,444.1 L1342.4,446.0 L1340.9,447.4 L1339.8,448.6 L1338.8,449.6 L1338.0,450.5 L1337.2,451.5 L1336.4,452.7 L1335.5,454.1 L1334.7,455.7 L1333.9,457.3 L1333.3,458.7 L1332.7,459.9 L1332.4,460.7 Z" fill="#0A6FE0"/>
<circle cx="1336.2" cy="462.5" r="4.2" fill="#0A6FE0"/>
<circle cx="1977.0" cy="99.7" r="6.4" fill="#0A6FE0"/>
<path d="M1340.6,512.2 L1340.9,511.6 L1341.3,510.7 L1341.7,509.8 L1342.2,508.9 L1342.7,508.1 L1343.2,507.4 L1343.7,506.7 L1344.2,506.2 L1344.7,505.6 L1345.5,504.9 L1346.5,504.0 L1348.0,502.7 L1349.9,501.1 L1352.1,499.2 L1354.6,497.1 L1357.3,494.9 L1360.1,492.7 L1363.1,490.6 L1366.4,488.5 L1370.0,486.4 L1373.9,484.2 L1377.9,482.0 L1382.0,479.8 L1385.9,477.7 L1389.7,475.7 L1393.5,473.9 L1397.3,472.1 L1401.2,470.3 L1405.1,468.5 L1409.0,466.7 L1412.7,464.9 L1416.3,463.2 L1419.9,461.5 L1423.5,459.8 L1427.4,458.1 L1431.6,456.3 L1436.3,454.3 L1441.4,452.2 L1446.7,449.8 L1452.1,447.3 L1457.5,444.8 L1462.7,442.4 L1467.8,440.0 L1472.7,437.7 L1477.7,435.3 L1482.8,432.9 L1488.0,430.4 L1493.6,427.7 L1499.7,424.8 L1506.1,421.6 L1512.8,418.3 L1519.5,415.0 L1526.0,411.8 L1532.0,408.8 L1537.6,405.9 L1542.9,403.3 L1548.0,400.7 L1553.0,398.1 L1557.9,395.6 L1563.0,392.9 L1568.2,390.2 L1573.3,387.5 L1578.5,384.8 L1583.6,382.1 L1588.8,379.4 L1593.9,376.6 L1599.0,373.9 L1604.0,371.2 L1608.9,368.5 L1614.0,365.8 L1619.3,362.9 L1624.9,359.8 L1631.0,356.5 L1637.4,352.9 L1644.1,349.1 L1650.8,345.4 L1657.3,341.7 L1663.3,338.3 L1668.8,335.2 L1673.9,332.3 L1678.7,329.5 L1683.6,326.6 L1688.7,323.7 L1694.2,320.4 L1700.4,316.8 L1707.0,312.9 L1713.9,308.8 L1720.7,304.7 L1727.4,300.8 L1733.5,297.0 L1739.2,293.6 L1744.5,290.4 L1749.6,287.2 L1754.6,284.2 L1759.5,281.1 L1764.6,278.0 L1769.6,274.9 L1774.6,271.8 L1779.5,268.7 L1784.5,265.6 L1789.6,262.5 L1794.7,259.4 L1799.7,256.3 L1804.8,253.2 L1809.8,250.0 L1815.0,246.8 L1820.3,243.5 L1826.0,239.9 L1832.1,236.0 L1838.7,231.9 L1845.4,227.6 L1852.2,223.3 L1858.7,219.0 L1864.8,215.1 L1870.4,211.3 L1875.7,207.8 L1880.8,204.4 L1885.8,201.0 L1890.7,197.6 L1895.8,194.2 L1901.2,190.5 L1906.8,186.7 L1912.3,182.9 L1917.7,179.1 L1922.6,175.7 L1926.9,172.7 L1930.4,170.3 L1933.1,168.4 L1935.5,166.8 L1937.6,165.2 L1940.0,163.6 L1942.8,161.6 L1946.1,159.3 L1949.7,156.7 L1953.4,154.0 L1957.2,151.3 L1960.9,148.7 L1964.2,146.3 L1967.4,144.0 L1970.7,141.7 L1973.8,139.4 L1976.6,137.4 L1979.0,135.6 L1980.7,134.4 L1971.3,121.6 L1969.6,122.8 L1967.2,124.6 L1964.5,126.7 L1961.4,128.9 L1958.2,131.3 L1955.0,133.7 L1951.7,136.1 L1948.1,138.8 L1944.4,141.5 L1940.7,144.2 L1937.1,146.8 L1933.8,149.2 L1931.1,151.2 L1928.8,152.8 L1926.6,154.4 L1924.4,156.0 L1921.7,158.0 L1918.3,160.4 L1914.0,163.5 L1909.1,167.0 L1903.8,170.7 L1898.3,174.6 L1892.9,178.5 L1887.6,182.2 L1882.6,185.7 L1877.6,189.2 L1872.7,192.6 L1867.7,196.1 L1862.5,199.7 L1857.0,203.5 L1851.0,207.6 L1844.7,212.0 L1838.1,216.6 L1831.5,221.1 L1825.2,225.5 L1819.2,229.6 L1813.7,233.3 L1808.5,236.9 L1803.5,240.2 L1798.6,243.5 L1793.7,246.8 L1788.7,250.1 L1783.8,253.4 L1778.9,256.7 L1774.0,259.8 L1769.0,262.9 L1764.1,266.1 L1759.0,269.2 L1754.1,272.4 L1749.2,275.4 L1744.2,278.5 L1739.2,281.6 L1733.9,284.9 L1728.3,288.3 L1722.1,292.1 L1715.5,296.1 L1708.7,300.2 L1701.9,304.3 L1695.3,308.2 L1689.2,311.9 L1683.7,315.1 L1678.6,318.1 L1673.8,320.9 L1669.0,323.8 L1663.9,326.7 L1658.5,329.8 L1652.5,333.3 L1646.0,337.0 L1639.4,340.8 L1632.8,344.5 L1626.3,348.1 L1620.3,351.5 L1614.7,354.6 L1609.5,357.5 L1604.4,360.3 L1599.5,363.0 L1594.5,365.7 L1589.5,368.4 L1584.4,371.2 L1579.3,374.0 L1574.1,376.7 L1569.0,379.4 L1563.9,382.1 L1558.8,384.8 L1553.7,387.5 L1548.8,390.1 L1543.9,392.6 L1538.8,395.2 L1533.5,397.9 L1528.0,400.8 L1522.0,403.9 L1515.5,407.1 L1508.9,410.4 L1502.2,413.7 L1495.8,416.9 L1489.8,419.9 L1484.2,422.6 L1479.0,425.1 L1474.0,427.6 L1469.1,429.9 L1464.1,432.3 L1459.1,434.7 L1453.9,437.1 L1448.5,439.6 L1443.2,442.1 L1438.0,444.5 L1433.0,446.7 L1428.4,448.7 L1424.1,450.5 L1420.1,452.3 L1416.4,454.0 L1412.8,455.8 L1409.2,457.5 L1405.4,459.3 L1401.6,461.1 L1397.8,462.9 L1393.9,464.7 L1390.0,466.6 L1386.1,468.5 L1382.1,470.6 L1378.2,472.8 L1374.1,474.9 L1370.0,477.2 L1366.0,479.5 L1362.2,481.7 L1358.7,484.0 L1355.4,486.3 L1352.3,488.6 L1349.5,490.9 L1346.9,493.1 L1344.7,495.0 L1342.8,496.7 L1341.3,498.0 L1340.1,499.0 L1339.1,499.9 L1338.3,500.8 L1337.6,501.6 L1336.8,502.6 L1336.0,503.8 L1335.2,505.0 L1334.6,506.2 L1334.1,507.2 L1333.7,508.0 L1333.4,508.6 Z" fill="#08A862"/>
<circle cx="1337.0" cy="510.4" r="4.0" fill="#08A862"/>
<circle cx="1976.0" cy="128.0" r="8.0" fill="#08A862"/>
<path d="M1981.5,47.5 l3.2,5.5 h-6.4 z" fill="#FF3535"/>
<circle cx="1327.2" cy="250.0" r="2.3" fill="none" stroke="#666" stroke-width="1.4"/>
<circle cx="1328.1" cy="260.0" r="2.3" fill="none" stroke="#666" stroke-width="1.4"/>
<circle cx="1327.6" cy="270.0" r="2.3" fill="none" stroke="#666" stroke-width="1.4"/>
<circle cx="1328.3" cy="280.0" r="2.3" fill="none" stroke="#666" stroke-width="1.4"/>
<circle cx="1328.4" cy="290.0" r="2.3" fill="none" stroke="#666" stroke-width="1.4"/>
<path d="M1326.7,340.5 l2.6,4.5 h-5.2 z" fill="none" stroke="#FF3535" stroke-width="1.4"/>
<path d="M1326.5,344.5 l2.6,4.5 h-5.2 z" fill="none" stroke="#FF3535" stroke-width="1.4"/>
<path d="M1329.0,348.5 l2.6,4.5 h-5.2 z" fill="none" stroke="#FF3535" stroke-width="1.4"/>
<path d="M1327.3,352.5 l2.6,4.5 h-5.2 z" fill="none" stroke="#FF3535" stroke-width="1.4"/>
<path d="M1327.2,356.5 l2.6,4.5 h-5.2 z" fill="none" stroke="#FF3535" stroke-width="1.4"/>
<path d="M1329.5,360.5 l2.6,4.5 h-5.2 z" fill="none" stroke="#FF3535" stroke-width="1.4"/>
<path d="M1327.9,364.5 l2.6,4.5 h-5.2 z" fill="none" stroke="#FF3535" stroke-width="1.4"/>
<path d="M1329.0,368.5 l2.6,4.5 h-5.2 z" fill="none" stroke="#FF3535" stroke-width="1.4"/>
<path d="M1327.9,372.5 l2.6,4.5 h-5.2 z" fill="none" stroke="#FF3535" stroke-width="1.4"/>
<circle cx="1328.4" cy="480.0" r="2.3" fill="none" stroke="#0A6FE0" stroke-width="1.4"/>
<circle cx="1327.0" cy="484.5" r="2.3" fill="none" stroke="#0A6FE0" stroke-width="1.4"/>
<circle cx="1328.4" cy="489.0" r="2.3" fill="none" stroke="#0A6FE0" stroke-width="1.4"/>
<circle cx="1329.1" cy="493.5" r="2.3" fill="none" stroke="#0A6FE0" stroke-width="1.4"/>
<circle cx="1328.1" cy="498.0" r="2.3" fill="none" stroke="#0A6FE0" stroke-width="1.4"/>
<circle cx="1328.7" cy="502.5" r="2.3" fill="none" stroke="#0A6FE0" stroke-width="1.4"/>
<circle cx="1328.5" cy="525.0" r="2.3" fill="none" stroke="#08A862" stroke-width="1.4"/>
<circle cx="1326.7" cy="529.0" r="2.3" fill="none" stroke="#08A862" stroke-width="1.4"/>
<circle cx="1328.8" cy="533.0" r="2.3" fill="none" stroke="#08A862" stroke-width="1.4"/>
<circle cx="1328.3" cy="537.0" r="2.3" fill="none" stroke="#08A862" stroke-width="1.4"/>
<circle cx="1327.4" cy="541.0" r="2.3" fill="none" stroke="#08A862" stroke-width="1.4"/>
<circle cx="1326.6" cy="545.0" r="2.3" fill="none" stroke="#08A862" stroke-width="1.4"/>
<circle cx="1329.1" cy="549.0" r="2.3" fill="none" stroke="#08A862" stroke-width="1.4"/>
<circle cx="1159" cy="221" r="2" fill="none" stroke="#4a4a4a" stroke-width="1.2"/>
<path d="M1167.7,312 l2.5,4.5 h-5 z" fill="#FF3535"/>
<circle cx="1170" cy="520.6" r="2.2" fill="none" stroke="#0A6FE0" stroke-width="1.3"/>
<circle cx="1168" cy="642.3" r="1.5" fill="#08A862"/>
<line x1="1203.0" y1="283.1" x2="1976.0" y2="71.3" stroke="#000" stroke-width="3.6" stroke-dasharray="16 16.5"/>
<line x1="1187.5" y1="377.0" x2="1978.0" y2="80.6" stroke="#000" stroke-width="3.6" stroke-dasharray="16 16.5"/>
<line x1="1197.0" y1="612.6" x2="1984.0" y2="98.6" stroke="#000" stroke-width="3.6" stroke-dasharray="16 16.5"/>
<line x1="1204.8" y1="642.8" x2="1988.5" y2="130.2" stroke="#000" stroke-width="3.6" stroke-dasharray="16 16.5"/>
<line x1="1605.5" y1="138.5" x2="1605.5" y2="191.5" stroke="#000" stroke-width="4.2" />
<line x1="1662.5" y1="168.5" x2="1662.5" y2="219.0" stroke="#000" stroke-width="4.2" />
<line x1="1733.2" y1="218.8" x2="1733.2" y2="271.0" stroke="#000" stroke-width="4.2" />
<line x1="1764.1" y1="253.6" x2="1764.1" y2="305.7" stroke="#000" stroke-width="4.2" />
<rect x="1187" y="21" width="803" height="646.3" fill="none" stroke="#333" stroke-width="2.2"/>
<line x1="1315.5" y1="21.0" x2="1315.5" y2="682.0" stroke="#222" stroke-width="1.6" />
<line x1="1173.0" y1="667.3" x2="1187.0" y2="667.3" stroke="#333" stroke-width="2.2" />
<text x="1163.5" y="676.0" font-size="31.0" font-weight="normal" text-anchor="end" fill="#000" stroke="#000" stroke-width="0.7">0.2</text>
<line x1="1181.5" y1="635.4" x2="1187.0" y2="635.4" stroke="#333" stroke-width="2.0" />
<line x1="1173.0" y1="603.6" x2="1187.0" y2="603.6" stroke="#333" stroke-width="2.2" />
<text x="1163.5" y="612.3" font-size="31.0" font-weight="normal" text-anchor="end" fill="#000" stroke="#000" stroke-width="0.7">0.4</text>
<line x1="1181.5" y1="571.7" x2="1187.0" y2="571.7" stroke="#333" stroke-width="2.0" />
<line x1="1173.0" y1="539.8" x2="1187.0" y2="539.8" stroke="#333" stroke-width="2.2" />
<text x="1163.5" y="548.5" font-size="31.0" font-weight="normal" text-anchor="end" fill="#000" stroke="#000" stroke-width="0.7">0.6</text>
<line x1="1181.5" y1="508.0" x2="1187.0" y2="508.0" stroke="#333" stroke-width="2.0" />
<line x1="1173.0" y1="476.1" x2="1187.0" y2="476.1" stroke="#333" stroke-width="2.2" />
<text x="1163.5" y="484.8" font-size="31.0" font-weight="normal" text-anchor="end" fill="#000" stroke="#000" stroke-width="0.7">0.8</text>
<line x1="1181.5" y1="444.2" x2="1187.0" y2="444.2" stroke="#333" stroke-width="2.0" />
<line x1="1173.0" y1="412.4" x2="1187.0" y2="412.4" stroke="#333" stroke-width="2.2" />
<text x="1163.5" y="421.1" font-size="31.0" font-weight="normal" text-anchor="end" fill="#000" stroke="#000" stroke-width="0.7">1.0</text>
<line x1="1181.5" y1="380.5" x2="1187.0" y2="380.5" stroke="#333" stroke-width="2.0" />
<line x1="1173.0" y1="348.6" x2="1187.0" y2="348.6" stroke="#333" stroke-width="2.2" />
<text x="1163.5" y="357.3" font-size="31.0" font-weight="normal" text-anchor="end" fill="#000" stroke="#000" stroke-width="0.7">1.2</text>
<line x1="1181.5" y1="316.8" x2="1187.0" y2="316.8" stroke="#333" stroke-width="2.0" />
<line x1="1173.0" y1="284.9" x2="1187.0" y2="284.9" stroke="#333" stroke-width="2.2" />
<text x="1163.5" y="293.6" font-size="31.0" font-weight="normal" text-anchor="end" fill="#000" stroke="#000" stroke-width="0.7">1.4</text>
<line x1="1181.5" y1="253.1" x2="1187.0" y2="253.1" stroke="#333" stroke-width="2.0" />
<line x1="1173.0" y1="221.2" x2="1187.0" y2="221.2" stroke="#333" stroke-width="2.2" />
<text x="1163.5" y="229.9" font-size="31.0" font-weight="normal" text-anchor="end" fill="#000" stroke="#000" stroke-width="0.7">1.6</text>
<line x1="1181.5" y1="189.3" x2="1187.0" y2="189.3" stroke="#333" stroke-width="2.0" />
<line x1="1173.0" y1="157.5" x2="1187.0" y2="157.5" stroke="#333" stroke-width="2.2" />
<text x="1163.5" y="166.2" font-size="31.0" font-weight="normal" text-anchor="end" fill="#000" stroke="#000" stroke-width="0.7">1.8</text>
<line x1="1181.5" y1="125.6" x2="1187.0" y2="125.6" stroke="#333" stroke-width="2.0" />
<line x1="1173.0" y1="93.7" x2="1187.0" y2="93.7" stroke="#333" stroke-width="2.2" />
<text x="1163.5" y="102.4" font-size="31.0" font-weight="normal" text-anchor="end" fill="#000" stroke="#000" stroke-width="0.7">2.0</text>
<line x1="1181.5" y1="61.9" x2="1187.0" y2="61.9" stroke="#333" stroke-width="2.0" />
<line x1="1173.0" y1="30.0" x2="1187.0" y2="30.0" stroke="#333" stroke-width="2.2" />
<text x="1163.5" y="38.7" font-size="31.0" font-weight="normal" text-anchor="end" fill="#000" stroke="#000" stroke-width="0.7">2.2</text>
<line x1="1315.0" y1="667.3" x2="1315.0" y2="682.0" stroke="#333" stroke-width="2.0" />
<text x="1314.0" y="710.0" font-size="31.0" font-weight="normal" text-anchor="middle" fill="#000" stroke="#000" stroke-width="0.6">0</text>
<line x1="1537.3" y1="667.3" x2="1537.3" y2="682.0" stroke="#333" stroke-width="2.0" />
<text x="1536.3" y="710.0" font-size="31.0" font-weight="normal" text-anchor="middle" fill="#000" stroke="#000" stroke-width="0.6">100</text>
<line x1="1759.7" y1="667.3" x2="1759.7" y2="682.0" stroke="#333" stroke-width="2.0" />
<text x="1758.7" y="710.0" font-size="31.0" font-weight="normal" text-anchor="middle" fill="#000" stroke="#000" stroke-width="0.6">200</text>
<line x1="1982.0" y1="667.3" x2="1982.0" y2="682.0" stroke="#333" stroke-width="2.0" />
<text x="1981.0" y="710.0" font-size="31.0" font-weight="normal" text-anchor="middle" fill="#000" stroke="#000" stroke-width="0.6">300</text>
<line x1="1203.8" y1="667.3" x2="1203.8" y2="675.0" stroke="#333" stroke-width="2.0" />
<line x1="1426.2" y1="667.3" x2="1426.2" y2="675.0" stroke="#333" stroke-width="2.0" />
<line x1="1648.5" y1="667.3" x2="1648.5" y2="675.0" stroke="#333" stroke-width="2.0" />
<line x1="1870.9" y1="667.3" x2="1870.9" y2="675.0" stroke="#333" stroke-width="2.0" />
<text x="1588.0" y="765.5" font-size="33.0" font-weight="normal" text-anchor="middle" fill="#000" textLength="73.0" lengthAdjust="spacingAndGlyphs" stroke="#000" stroke-width="1">T (K)</text>
<text transform="translate(1075,341) rotate(-90)" font-size="30" text-anchor="middle" fill="#111" stroke="#111" stroke-width="0.4" textLength="276" lengthAdjust="spacingAndGlyphs"><tspan font-family="Liberation Serif" font-style="italic" fill="#666" stroke="none">&#967;</tspan><tspan font-size="18" dy="-13">-1</tspan><tspan dy="13"> (emu.Oe</tspan><tspan font-size="18" dy="-13">-1</tspan><tspan dy="13">.g</tspan><tspan font-size="18" dy="-13">-1</tspan><tspan dy="13">)</tspan><tspan font-size="18" dy="-13">-1</tspan></text>
<text x="1340.6" y="64.0" font-size="37.0" font-weight="normal" text-anchor="start" fill="#000" >b</text>
<text x="1585.0" y="111.5" font-size="32.0" font-weight="bold" text-anchor="start" fill="#000" >T</text>
<text x="1602.8" y="121.2" font-size="23.0" font-weight="normal" text-anchor="start" fill="#222" >K</text>
<text x="1339.8" y="165.5" font-size="32" fill="#000" stroke="#000" stroke-width="0.5" textLength="173.0" lengthAdjust="spacing">[Gd] = 4.95</text>
<text x="1450.0" y="307.0" font-size="32" fill="#000" stroke="#000" stroke-width="0.5" textLength="123.5" lengthAdjust="spacing">[Gd] = 5</text>
<text x="1362.2" y="369.0" font-size="32" fill="#000" stroke="#000" stroke-width="0.5" textLength="159.5" lengthAdjust="spacing">[Gd] =5,48</text>
<text x="1398.6" y="550.0" font-size="32" fill="#000" stroke="#000" stroke-width="0.5" textLength="161.8" lengthAdjust="spacing">[Gd] =5.76</text>
<text x="1210.4" y="236.8" font-size="32" fill="#000" stroke="#000" stroke-width="0.5" textLength="36.3" lengthAdjust="spacing">55</text>
<text x="1255.4" y="222.4" font-size="24" fill="#111">o</text>
<text x="1268.4" y="236.8" font-size="32" fill="#000" stroke="#000" stroke-width="0.9">C</text>
<text x="1214.2" y="327.4" font-size="32" fill="#000" stroke="#000" stroke-width="0.5" textLength="36.8" lengthAdjust="spacing">60</text>
<text x="1261.4" y="312.9" font-size="24" fill="#111">o</text>
<text x="1274.3" y="327.4" font-size="32" fill="#000" stroke="#000" stroke-width="0.9">C</text>
<text x="1219.4" y="535.0" font-size="32" fill="#000" stroke="#000" stroke-width="0.5" textLength="37.4" lengthAdjust="spacing">70</text>
<text x="1264.6" y="521.7" font-size="24" fill="#111">o</text>
<text x="1279.9" y="535.0" font-size="32" fill="#000" stroke="#000" stroke-width="0.9">C</text>
<text x="1218.3" y="653.0" font-size="32" fill="#000" stroke="#000" stroke-width="0.5" textLength="51.7" lengthAdjust="spacing">100</text>
<text x="1281.0" y="640.9" font-size="24" fill="#111">o</text>
<text x="1293.0" y="653.0" font-size="32" fill="#000" stroke="#000" stroke-width="0.9">C</text>
</svg>
</body></html>
